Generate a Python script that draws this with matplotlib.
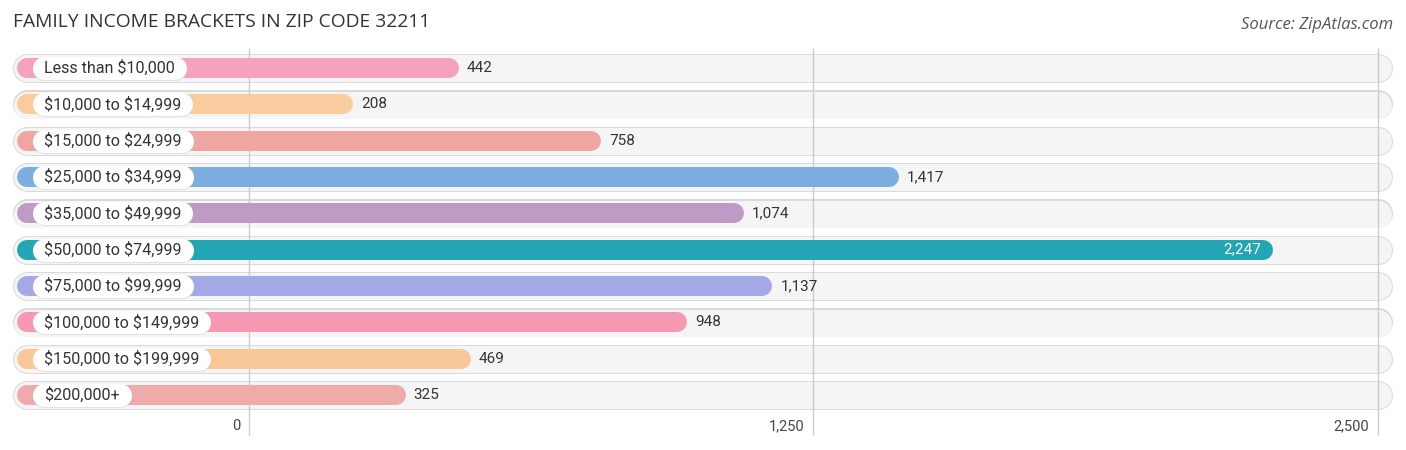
import matplotlib
matplotlib.use("Agg")
import matplotlib.pyplot as plt

# donnees
categories = ["Less than $10,000", "$10,000 to $14,999", "$15,000 to $24,999",
              "$25,000 to $34,999", "$35,000 to $49,999", "$50,000 to $74,999",
              "$75,000 to $99,999", "$100,000 to $149,999", "$150,000 to $199,999",
              "$200,000+"]
valeurs = [442, 208, 758, 1417, 1074, 2247, 1137, 948, 469, 325]
couleurs = ["#F5A3BC", "#F9CC9F", "#EFA6A3", "#7DAEE0", "#BE9BC5",
            "#23A5B5", "#A2A9E4", "#F697B4", "#F9C898", "#EFAAAA"]
ticks = [0, 1250, 2500]
tick_labels = ["0", "1,250", "2,500"]

W, H, DPI = 1406, 450, 100
PX = 72.0 / DPI           # 1 pixel en points
x0_px, scale = 249.0, 0.4514   # position du zero et pixels par unite
y0_px, dy_px = 68.0, 36.33

plt.rcParams["font.family"] = ["Roboto", "DejaVu Sans"]

fig = plt.figure(figsize=(W / DPI, H / DPI), dpi=DPI)
ax = fig.add_axes([0, 0, 1, 1])
ax.set_xlim(-x0_px / scale, (W - x0_px) / scale)
ax.set_ylim((H - y0_px) / dy_px, -y0_px / dy_px)
ax.axis("off")

debut = -222 / scale   # debut des barres (a gauche du zero)
fin_piste = 2500

for i, (cat, val, col) in enumerate(zip(categories, valeurs, couleurs)):
    # piste grise
    ax.plot([debut, fin_piste], [i, i], color="#DADADA", lw=29 * PX,
            solid_capstyle="round", zorder=1)
    ax.plot([debut, fin_piste], [i + 0.012, i + 0.012], color="#F5F5F5", lw=27 * PX,
            solid_capstyle="round", zorder=1.1)
    # barre
    ax.plot([debut, val], [i, i], color=col, lw=20 * PX,
            solid_capstyle="round", zorder=3)
    if val == max(valeurs):
        ax.annotate(f"{val:,}", (val, i), xytext=(-1.5, 0), textcoords="offset points",
                    ha="right", va="center", fontsize=11, color="white", zorder=6)
    else:
        ax.annotate(f"{val:,}", (val, i), xytext=(13, 0), textcoords="offset points",
                    ha="left", va="center", fontsize=11, color="#333333", zorder=6)

# lignes de grille
ax.vlines(ticks, -0.55, 10.1, color="#CCCCCC", lw=1, zorder=2)
for t, lab in zip(ticks, tick_labels):
    ax.annotate(lab, (t, 9.85), xytext=(-6, 0), textcoords="offset points",
                ha="right", va="center", fontsize=10.5, color="#444444")

# etiquettes dans des cartouches blancs
fig.canvas.draw()
renderer = fig.canvas.get_renderer()
inv = ax.transData.inverted()
x_texte = (44 - x0_px) / scale
for i, cat in enumerate(categories):
    txt = ax.text(x_texte, i, cat, ha="left", va="center", fontsize=11.6,
                  color="#333333", zorder=6, parse_math=False)
    bb = txt.get_window_extent(renderer)
    xa = inv.transform((bb.x0, 0))[0]
    xb = inv.transform((bb.x1, 0))[0]
    ax.plot([xa, xb], [i + 0.03, i + 0.03], color="#D5D5D5", lw=23 * PX,
            solid_capstyle="round", zorder=4, alpha=0.6)
    ax.plot([xa, xb], [i, i], color="white", lw=23 * PX,
            solid_capstyle="round", zorder=5)

fig.text(13 / W, 1 - 22 / H, "FAMILY INCOME BRACKETS IN ZIP CODE 32211",
         ha="left", va="center", fontsize=13.9, color="#333333", family="Open Sans")
fig.text(1393 / W, 1 - 25 / H, "Source: ZipAtlas.com", ha="right", va="center",
         fontsize=12, color="#555555", style="italic", family="Open Sans")

fig.savefig("out.png", dpi=DPI)
